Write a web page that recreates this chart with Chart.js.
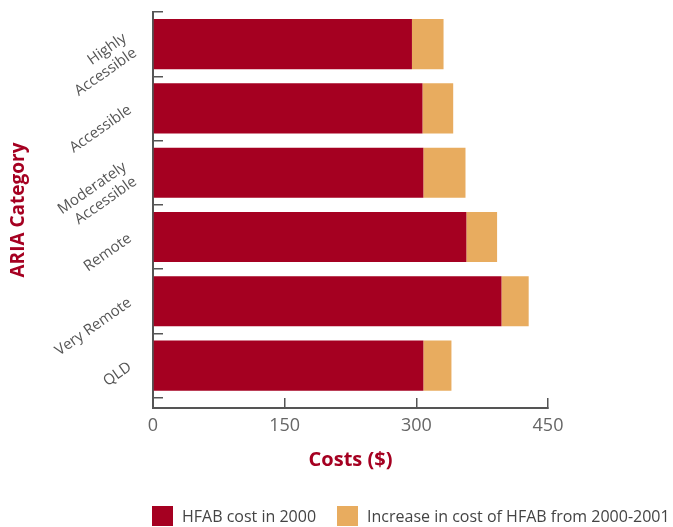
<!DOCTYPE html>
<html>
<head>
<meta charset="utf-8">
<script src="https://cdn.jsdelivr.net/npm/chart.js@4.4.0/dist/chart.umd.min.js"></script>
<style>
  html, body { margin: 0; padding: 0; background: #fff; }
  #wrap { position: relative; width: 673px; height: 527px; }
  #legend { position: absolute; left: 152px; top: 505px; display: flex; font: 16px "Open Sans", sans-serif; color: #444; white-space: nowrap; }
  #legend .item { display: flex; align-items: center; margin-right: 21px; }
  #legend .box { width: 21px; height: 20px; margin-right: 9px; }
</style>
</head>
<body>
<div id="wrap">
  <canvas id="costChart" width="673" height="527"></canvas>
  <div id="legend"></div>
</div>
<script>
const categories = [
  ["Highly", "Accessible"],
  "Accessible",
  ["Moderately", "Accessible"],
  "Remote",
  "Very Remote",
  "QLD"
];
const cost2000 = [295, 307, 308, 357, 397, 308];
const increase = [36, 35, 48, 35, 31, 32];
const costTicks = [0, 150, 300, 450];

const red = "#a50021";
const orange = "#e8ac5f";
const axisGrey = "#555";

// y is a linear index axis so the bands can stop short of the x axis line
const toPoints = (arr) => arr.map((v, i) => ({ x: v, y: i }));

const ctx = document.getElementById("costChart").getContext("2d");

const chart = new Chart(ctx, {
  type: "bar",
  data: {
    datasets: [
      {
        label: "HFAB cost in 2000",
        data: toPoints(cost2000),
        backgroundColor: red,
        borderWidth: 0,
        categoryPercentage: 1,
        barPercentage: 0.78,
      },
      {
        label: "Increase in cost of HFAB from 2000-2001",
        data: toPoints(increase),
        backgroundColor: orange,
        borderWidth: 0,
        categoryPercentage: 1,
        barPercentage: 0.78,
      },
    ],
  },
  options: {
    indexAxis: "y",
    responsive: false,
    animation: false,
    layout: { padding: { top: 12, right: 125, bottom: 0, left: 0 } },
    plugins: {
      legend: { display: false },
      tooltip: { enabled: false },
    },
    scales: {
      x: {
        type: "linear",
        stacked: true,
        min: 0,
        max: 450,
        afterBuildTicks: (scale) => {
          scale.ticks = costTicks.map((v) => ({ value: v }));
        },
        afterFit: (scale) => {
          scale.height = 119;
          scale.paddingLeft = 0;
          scale.paddingRight = 0;
        },
        border: { color: axisGrey, width: 2 },
        grid: { drawOnChartArea: false, tickLength: -10, color: axisGrey, lineWidth: 1.5 },
        ticks: {
          color: "#666",
          padding: 17,
          font: { family: "Open Sans", size: 18 },
        },
        title: {
          display: true,
          text: "Costs ($)",
          color: red,
          font: { family: "Open Sans", size: 20, weight: "bold" },
          padding: { top: 0, bottom: 55 },
        },
      },
      y: {
        type: "linear",
        stacked: true,
        reverse: true,
        offset: false,
        min: -0.5,
        max: 5.66,
        afterBuildTicks: (scale) => {
          scale.ticks = categories.map((c, i) => ({ value: i }));
        },
        afterFit: (scale) => {
          scale.width = 153;
          scale.paddingTop = 0;
          scale.paddingBottom = 0;
        },
        border: { color: axisGrey, width: 2 },
        grid: { offset: true, drawOnChartArea: false, tickLength: -10, color: axisGrey, lineWidth: 1.5 },
        ticks: {
          color: "#555",
          padding: 33,
          minRotation: 35,
          maxRotation: 35,
          font: { family: "Open Sans", size: 15, lineHeight: 1.2 },
          callback: (value) => categories[value],
        },
        title: {
          display: true,
          text: "ARIA Category",
          color: red,
          font: { family: "Open Sans", size: 19, weight: "bold" },
          padding: { top: 7, bottom: 0 },
        },
      },
    },
  },
});

// legend as html under the plot
const legendEl = document.getElementById("legend");
chart.data.datasets.forEach((ds) => {
  const item = document.createElement("div");
  item.className = "item";
  const box = document.createElement("span");
  box.className = "box";
  box.style.background = ds.backgroundColor;
  const text = document.createElement("span");
  text.textContent = ds.label;
  item.appendChild(box);
  item.appendChild(text);
  legendEl.appendChild(item);
});
</script>
</body>
</html>
